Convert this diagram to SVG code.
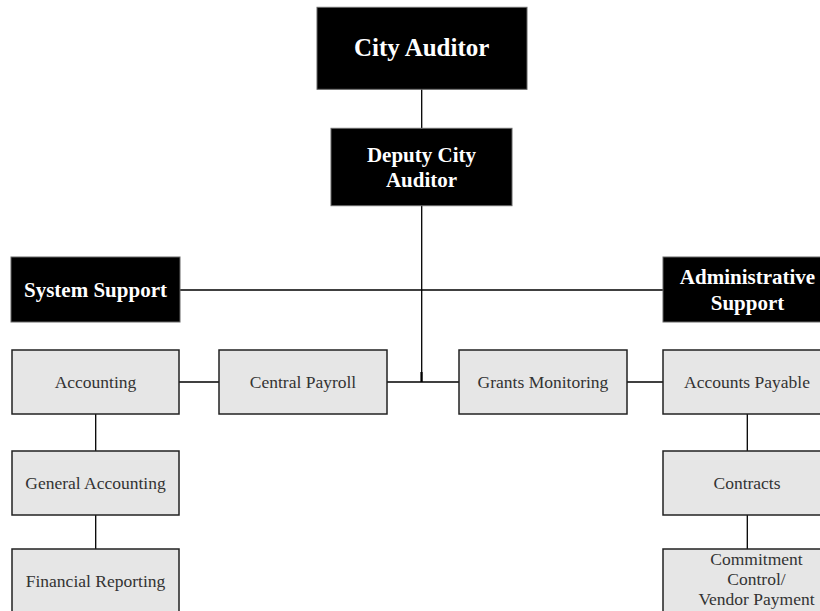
<svg xmlns="http://www.w3.org/2000/svg" width="820" height="611" viewBox="0 0 820 611">
<style>
.dark rect{fill:#000;stroke:#666;stroke-width:1}
.dark text{fill:#fff;font-family:"Liberation Serif","Times New Roman",serif;font-weight:bold;font-size:21px;text-anchor:middle}
.lite rect{fill:#e6e6e6;stroke:#222;stroke-width:1.5}
.lite text{fill:#333;font-family:"Liberation Serif","Times New Roman",serif;font-size:17.5px;text-anchor:middle}
#connectors line{stroke:#000;stroke-width:1.3}
</style>
<rect width="820" height="611" fill="#fff"/>
<g id="connectors">
<line x1="421.7" y1="89" x2="421.7" y2="128"/>
<line x1="421.7" y1="205" x2="421.7" y2="382"/>
<line x1="421.5" y1="372" x2="421.5" y2="382" style="stroke-width:2.2"/>
<line x1="180" y1="290" x2="663" y2="290"/>
<line x1="387" y1="382" x2="459" y2="382"/>
<line x1="179" y1="382" x2="219" y2="382"/>
<line x1="627" y1="382" x2="663" y2="382"/>
<line x1="95.7" y1="414" x2="95.7" y2="451"/>
<line x1="95.7" y1="515" x2="95.7" y2="549"/>
<line x1="747.3" y1="414" x2="747.3" y2="451"/>
<line x1="747.3" y1="515" x2="747.3" y2="549"/>
</g>
<g id="city-auditor" class="dark">
<rect x="317" y="7.3" width="210" height="82"/>
<text x="421.7" y="56" style="font-size:25px">City Auditor</text>
</g>
<g id="deputy-city-auditor" class="dark">
<rect x="331" y="128.3" width="181" height="77.4"/>
<text x="421.5" y="161.5">Deputy City</text>
<text x="421.5" y="187.3">Auditor</text>
</g>
<g id="system-support" class="dark">
<rect x="11" y="257" width="169" height="65"/>
<text x="95.5" y="296.7">System Support</text>
</g>
<g id="administrative-support" class="dark">
<rect x="663" y="257" width="170" height="65"/>
<text x="747.5" y="284">Administrative</text>
<text x="747.5" y="310">Support</text>
</g>
<g id="accounting" class="lite">
<rect x="12" y="350" width="167" height="64"/>
<text x="95.5" y="388">Accounting</text>
</g>
<g id="central-payroll" class="lite">
<rect x="219" y="350" width="168" height="64"/>
<text x="303" y="388">Central Payroll</text>
</g>
<g id="grants-monitoring" class="lite">
<rect x="459" y="350" width="168" height="64"/>
<text x="543" y="388">Grants Monitoring</text>
</g>
<g id="accounts-payable" class="lite">
<rect x="663" y="350" width="168" height="64"/>
<text x="747" y="388">Accounts Payable</text>
</g>
<g id="general-accounting" class="lite">
<rect x="12" y="451" width="167" height="64"/>
<text x="95.5" y="489">General Accounting</text>
</g>
<g id="contracts" class="lite">
<rect x="663" y="451" width="168" height="64"/>
<text x="747" y="489">Contracts</text>
</g>
<g id="financial-reporting" class="lite">
<rect x="12" y="549" width="167" height="70"/>
<text x="95.5" y="587">Financial Reporting</text>
</g>
<g id="commitment-control" class="lite">
<rect x="663" y="549" width="190" height="70"/>
<text x="756.5" y="565">Commitment</text>
<text x="756.5" y="585">Control/</text>
<text x="756.5" y="605">Vendor Payment</text>
</g>
</svg>
